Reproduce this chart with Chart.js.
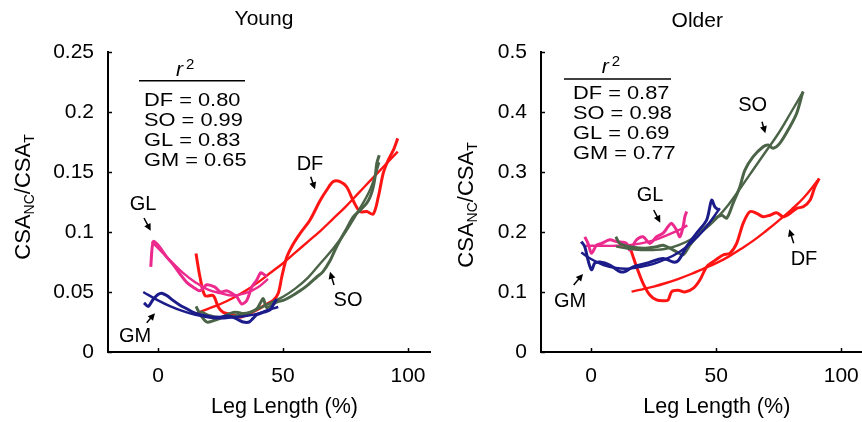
<!DOCTYPE html>
<html>
<head>
<meta charset="utf-8">
<script src="https://cdn.jsdelivr.net/npm/chart.js@4.4.1/dist/chart.umd.min.js"></script>
<style>
  body { margin: 0; background: #fff; }
  #wrap { position: relative; width: 862px; height: 422px; }
  .panel { position: absolute; top: 0; width: 431px; height: 422px; }
</style>
</head>
<body>
<div id="wrap">
  <div class="panel" style="left:0"><canvas id="young" width="431" height="422"></canvas></div>
  <div class="panel" style="left:431px"><canvas id="older" width="431" height="422"></canvas></div>
</div>
<script>
// CSA_NC / CSA_T along the leg, young vs older, raw profiles + quadratic fits

const xTicks = [0, 50, 100];
const youngYTicks = [0, 0.05, 0.1, 0.15, 0.2, 0.25];
const olderYTicks = [0, 0.1, 0.2, 0.3, 0.4, 0.5];

const muscles = ['DF', 'SO', 'GL', 'GM'];
const youngR2 = [0.80, 0.99, 0.83, 0.65];
const olderR2 = [0.87, 0.98, 0.69, 0.77];

// --- Young ---
const youngGLRaw = [[-2.9,0.071],[-1.9,0.092],[0.1,0.089],[1.5,0.085],[3.5,0.079],[6,0.073],[8.8,0.065],[11.5,0.058],[14.1,0.054],[16.8,0.051],[19.5,0.056],[22.8,0.054],[25,0.050],[27.5,0.051],[29.5,0.049],[31.5,0.046],[33.5,0.040],[35.5,0.043],[37.5,0.054],[39.5,0.060],[41,0.066],[42.1,0.065],[43.5,0.063]];
const youngGLFit = [[-2.5,0.092],[5,0.076],[10,0.066],[15,0.058],[20,0.052],[25,0.049],[30,0.047],[35,0.049],[40,0.054],[44,0.061]];
const youngGMRaw = [[-5.6,0.041],[-3.9,0.038],[-1.9,0.044],[0,0.048],[1.5,0.049],[3.5,0.047],[6,0.043],[8.8,0.039],[11.5,0.036],[14.1,0.033],[17,0.031],[19.5,0.030],[22,0.029],[24.8,0.029],[27.5,0.030],[30.1,0.029],[32,0.027],[34.1,0.025],[36.5,0.025],[38,0.028],[39.5,0.031],[42.1,0.033],[44.8,0.035],[46.8,0.042],[47.5,0.044]];
const youngGMFit = [[-5.9,0.050],[0,0.043],[5,0.038],[10,0.034],[15,0.031],[20,0.029],[25,0.028],[30,0.029],[35,0.030],[40,0.032],[44,0.035],[48.1,0.0375]];
const youngSORaw = [[15.2,0.038],[17,0.031],[19.5,0.025],[22,0.026],[24.8,0.028],[27.5,0.031],[30.1,0.033],[32,0.033],[34,0.032],[37,0.033],[39.5,0.036],[41,0.041],[42.1,0.0445],[43.5,0.037],[46,0.040],[48,0.042],[50.1,0.043],[53,0.046],[56.8,0.051],[60,0.056],[63.5,0.0625],[66,0.067],[68.8,0.076],[70.8,0.085],[72.8,0.093],[75.5,0.103],[78.1,0.1125],[80.8,0.118],[83.5,0.124],[85,0.130],[86.1,0.1375],[87,0.148],[87.5,0.157],[88.5,0.164]];
const youngSOFit = [[17,0.034],[20,0.031],[25,0.029],[30,0.030],[35,0.032],[40,0.036],[45,0.041],[50,0.046],[55,0.053],[60,0.062],[65,0.074],[70,0.086],[75,0.100],[80,0.117],[85,0.136],[88.5,0.158]];
const youngDFRaw = [[15.2,0.082],[16.8,0.0625],[18.8,0.047],[22.1,0.047],[24.1,0.0375],[26.1,0.033],[30.1,0.031],[32.8,0.029],[35.5,0.031],[39.5,0.035],[43.5,0.040],[46.1,0.043],[48.1,0.049],[49.5,0.0625],[51.5,0.079],[54.1,0.090],[56.8,0.0987],[60.8,0.110],[64.8,0.126],[67.5,0.135],[70.1,0.142],[72.8,0.142],[75.5,0.1375],[78.1,0.126],[80.8,0.117],[83.5,0.117],[86.1,0.115],[88.1,0.129],[90.1,0.149],[92.1,0.160],[94.1,0.168],[95.9,0.178]];
const youngDFFit = [[15.2,0.032],[20,0.036],[25,0.040],[30,0.045],[35,0.051],[40,0.058],[45,0.066],[50,0.074],[55,0.083],[60,0.092],[65,0.101],[70,0.111],[75,0.121],[80,0.132],[85,0.143],[90,0.154],[95.9,0.167]];

// --- Older ---
const olderGLRaw = [[-2.5,0.192],[-1.2,0.181],[0.2,0.1645],[2.2,0.178],[4.2,0.181],[7.5,0.187],[10.2,0.184],[14.2,0.181],[15.5,0.170],[18.2,0.187],[20.8,0.192],[23.5,0.181],[26.2,0.192],[28.8,0.198],[30.8,0.209],[32.2,0.2145],[34.2,0.203],[35.5,0.192],[36.8,0.209],[37.5,0.2255],[38.2,0.234]];
const olderGLFit = [[-2,0.177],[5,0.177],[10,0.177],[15,0.178],[20,0.181],[25,0.186],[30,0.194],[35,0.203],[38.5,0.211]];
const olderGMRaw = [[-3.9,0.184],[-2.5,0.1755],[-1.2,0.153],[0.2,0.137],[1.5,0.148],[3.5,0.150],[7.5,0.145],[11.5,0.134],[13.5,0.134],[16.8,0.142],[22.2,0.148],[28.8,0.156],[32.8,0.150],[34.8,0.152],[38.2,0.1755],[42.2,0.198],[46.2,0.220],[48.2,0.253],[49.5,0.242],[50.8,0.237]];
const olderGMFit = [[-3.9,0.166],[0,0.155],[5,0.145],[10,0.140],[15,0.139],[20,0.142],[25,0.147],[30,0.155],[35,0.166],[40,0.182],[45,0.203],[51.5,0.2395]];
const olderSORaw = [[9.9,0.192],[11.5,0.181],[15.5,0.1755],[20.8,0.173],[26.2,0.1755],[28.8,0.178],[31.5,0.173],[34.2,0.167],[36.8,0.162],[39.5,0.178],[43.5,0.198],[48.8,0.220],[52.2,0.228],[54.2,0.223],[56.8,0.248],[59.5,0.2755],[61.5,0.303],[64.8,0.3255],[68.8,0.342],[70.8,0.345],[72.8,0.3395],[75.5,0.348],[79.5,0.3755],[82.2,0.398],[84.5,0.431],[84.8,0.434]];
const olderSOFit = [[10,0.176],[15,0.172],[20,0.170],[25,0.170],[30,0.172],[35,0.178],[40,0.188],[45,0.203],[50,0.222],[55,0.246],[60,0.275],[65,0.305],[70,0.335],[75,0.365],[80,0.400],[84.8,0.434]];
const olderDFRaw = [[15.5,0.1755],[16.8,0.159],[18.2,0.142],[20.8,0.1145],[23.5,0.095],[26.2,0.0867],[28.8,0.0855],[30.8,0.0867],[32.2,0.1005],[34.8,0.103],[37.5,0.100],[40.8,0.106],[43.5,0.120],[46.2,0.142],[48.8,0.1505],[52.8,0.1617],[55.5,0.1645],[58.2,0.181],[60.8,0.2145],[63.5,0.234],[66.2,0.231],[68.8,0.2255],[71.5,0.228],[74.2,0.232],[76.8,0.2255],[79.5,0.231],[82.2,0.2395],[84.8,0.242],[87.5,0.253],[89.5,0.2755],[91.2,0.289]];
const olderDFFit = [[16.2,0.1005],[20,0.104],[25,0.109],[30,0.115],[35,0.122],[40,0.130],[45,0.139],[50,0.148],[55,0.159],[60,0.172],[65,0.186],[70,0.202],[75,0.219],[80,0.237],[85,0.257],[91.2,0.289]];

const COLORS = { DF: '#ff1414', SO: '#4b6448', GL: '#ec2a8e', GM: '#1b1b8a' };
const FONT = "'Liberation Sans', Arial, Helvetica, sans-serif";

function arrow(ctx, x1, y1, x2, y2) {
    const a = Math.atan2(y2 - y1, x2 - x1);
    const c = Math.cos(a), s = Math.sin(a);
    ctx.beginPath();
    ctx.moveTo(x1, y1);
    ctx.lineTo(x2 - 4 * c, y2 - 4 * s);
    ctx.stroke();
    ctx.beginPath();
    ctx.moveTo(x2, y2);
    ctx.lineTo(x2 - 7 * c + 3.5 * s, y2 - 7 * s - 3.5 * c);
    ctx.lineTo(x2 - 7 * c - 3.5 * s, y2 - 7 * s + 3.5 * c);
    ctx.closePath();
    ctx.fill();
}

// draws CSA_NC/CSA_T rotated, baseline at bx, centred on cy
function drawYLabel(ctx, bx, cy) {
    const parts = [['CSA', 22, 0], ['NC', 14, 4], ['/CSA', 22, 0], ['T', 14, 4]];
    let total = 0;
    parts.forEach(p => { ctx.font = p[1] + 'px ' + FONT; total += ctx.measureText(p[0]).width; });
    ctx.save();
    ctx.translate(bx, cy);
    ctx.rotate(-Math.PI / 2);
    ctx.textAlign = 'left';
    ctx.textBaseline = 'alphabetic';
    let x = -total / 2;
    parts.forEach(p => {
        ctx.font = p[1] + 'px ' + FONT;
        ctx.fillText(p[0], x, p[2]);
        x += ctx.measureText(p[0]).width;
    });
    ctx.restore();
}

const decoPlugin = {
    id: 'deco',
    afterDraw(chart, args, opts) {
        const ctx = chart.ctx;
        const xs = chart.scales.x, ys = chart.scales.y;
        const area = chart.chartArea;
        ctx.save();
        ctx.fillStyle = '#000';
        ctx.strokeStyle = '#000';

        // inward tick marks
        ctx.lineWidth = 1.5;
        ys.ticks.forEach(t => {
            const y = Math.round(ys.getPixelForValue(t.value)) + 0.5;
            ctx.beginPath(); ctx.moveTo(area.left, y); ctx.lineTo(area.left + 4, y); ctx.stroke();
        });
        xs.ticks.forEach(t => {
            const x = Math.round(xs.getPixelForValue(t.value)) + 0.5;
            ctx.beginPath(); ctx.moveTo(x, area.bottom); ctx.lineTo(x, area.bottom - 4); ctx.stroke();
        });

        // title and axis labels
        ctx.textAlign = 'center';
        ctx.textBaseline = 'alphabetic';
        ctx.font = '21px ' + FONT;
        ctx.fillText(opts.title, opts.titleX, opts.titleY);
        ctx.font = '21.5px ' + FONT;
        ctx.fillText('Leg Length (%)', opts.xLabelX, 413);
        drawYLabel(ctx, opts.yLabelX, opts.yLabelY);

        // r^2 table
        const r = opts.r2;
        ctx.textAlign = 'left';
        ctx.font = 'italic 21px ' + FONT;
        ctx.fillText('r', r.rX, r.rY);
        ctx.font = '15px ' + FONT;
        ctx.fillText('2', r.rX + 10, r.rY - 7);
        ctx.lineWidth = 1.5;
        ctx.beginPath(); ctx.moveTo(r.lineX1, r.lineY); ctx.lineTo(r.lineX2, r.lineY); ctx.stroke();
        ctx.font = '18.5px ' + FONT;
        opts.values.forEach((v, i) => {
            ctx.save();
            ctx.translate(r.rowX, r.rowY + i * 20);
            ctx.scale(1.18, 1);
            ctx.fillText(muscles[i] + ' = ' + v.toFixed(2), 0, 0);
            ctx.restore();
        });

        // muscle labels with arrows
        ctx.textAlign = 'center';
        ctx.font = '20px ' + FONT;
        ctx.lineWidth = 1.5;
        opts.notes.forEach(n => {
            ctx.fillText(n.text, n.tx, n.ty);
            arrow(ctx, n.a[0], n.a[1], n.a[2], n.a[3]);
        });
        ctx.restore();
    }
};

function series(pts, muscle, fit) {
    return {
        data: pts.map(p => ({ x: p[0], y: p[1] })),
        borderColor: COLORS[muscle],
        borderWidth: fit ? 2.4 : 3,
        pointRadius: 0,
        fill: false,
        tension: fit ? 0.4 : 0.3
    };
}

function makeChart(id, datasets, yTicks, xMin, xMax, yAxisWidth, deco) {
    return new Chart(document.getElementById(id), {
        type: 'line',
        data: { datasets: datasets },
        options: {
            responsive: false,
            animation: false,
            events: [],
            layout: { padding: { top: 52, left: 0, right: 0, bottom: 0 } },
            plugins: { legend: { display: false }, tooltip: { enabled: false }, deco: deco },
            scales: {
                x: {
                    type: 'linear',
                    min: xMin,
                    max: xMax,
                    afterBuildTicks: s => { s.ticks = xTicks.map(v => ({ value: v })); },
                    afterFit: s => { s.height = 70; s.paddingLeft = 0; s.paddingRight = 0; },
                    grid: { display: false, drawTicks: false },
                    border: { display: true, color: '#000', width: 2 },
                    ticks: { color: '#000', padding: 12, font: { family: FONT, size: 21 }, callback: v => String(v) }
                },
                y: {
                    type: 'linear',
                    min: yTicks[0],
                    max: yTicks[yTicks.length - 1],
                    afterBuildTicks: s => { s.ticks = yTicks.map(v => ({ value: v })); },
                    afterFit: s => { s.width = yAxisWidth; },
                    grid: { display: false, drawTicks: false },
                    border: { display: true, color: '#000', width: 2 },
                    ticks: { color: '#000', padding: 14, font: { family: FONT, size: 21 }, callback: v => String(v) }
                }
            }
        },
        plugins: [decoPlugin]
    });
}

makeChart('young', [
    series(youngGLRaw, 'GL'), series(youngGLFit, 'GL', true),
    series(youngGMRaw, 'GM'), series(youngGMFit, 'GM', true),
    series(youngSORaw, 'SO'), series(youngSOFit, 'SO', true),
    series(youngDFRaw, 'DF'), series(youngDFFit, 'DF', true)
], youngYTicks, -20, 109.2, 108, {
    title: 'Young', titleX: 264, titleY: 25,
    xLabelX: 284.5, yLabelX: 30, yLabelY: 197,
    values: youngR2,
    r2: { rX: 176, rY: 75.5, lineX1: 139, lineX2: 245, lineY: 80.7, rowX: 144, rowY: 106 },
    notes: [
        { text: 'GL', tx: 143, ty: 209.5, a: [144, 218, 150.7, 230.7] },
        { text: 'GM', tx: 135, ty: 341.5, a: [146.7, 322.7, 155, 313.3] },
        { text: 'DF', tx: 310, ty: 170, a: [310.7, 176.7, 315, 189.3] },
        { text: 'SO', tx: 348, ty: 306, a: [334, 285, 330, 271.7] }
    ]
});

makeChart('older', [
    series(olderGMRaw, 'GM'), series(olderGMFit, 'GM', true),
    series(olderSORaw, 'SO'), series(olderSOFit, 'SO', true),
    series(olderGLRaw, 'GL'), series(olderGLFit, 'GL', true),
    series(olderDFRaw, 'DF'), series(olderDFFit, 'DF', true)
], olderYTicks, -20, 108.3, 110, {
    title: 'Older', titleX: 266.3, titleY: 26.5,
    xLabelX: 285.8, yLabelX: 42, yLabelY: 205,
    values: olderR2,
    r2: { rX: 170.7, rY: 73, lineX1: 133, lineX2: 240, lineY: 79, rowX: 142, rowY: 99 },
    notes: [
        { text: 'SO', tx: 321.7, ty: 110.7, a: [331, 121.7, 334.3, 133.3] },
        { text: 'GL', tx: 219, ty: 200.7, a: [222.7, 210, 229.3, 222.7] },
        { text: 'GM', tx: 139, ty: 306.7, a: [142.7, 285, 152, 274] },
        { text: 'DF', tx: 373, ty: 265, a: [362.7, 243.3, 358.3, 229.3] }
    ]
});
</script>
</body>
</html>
